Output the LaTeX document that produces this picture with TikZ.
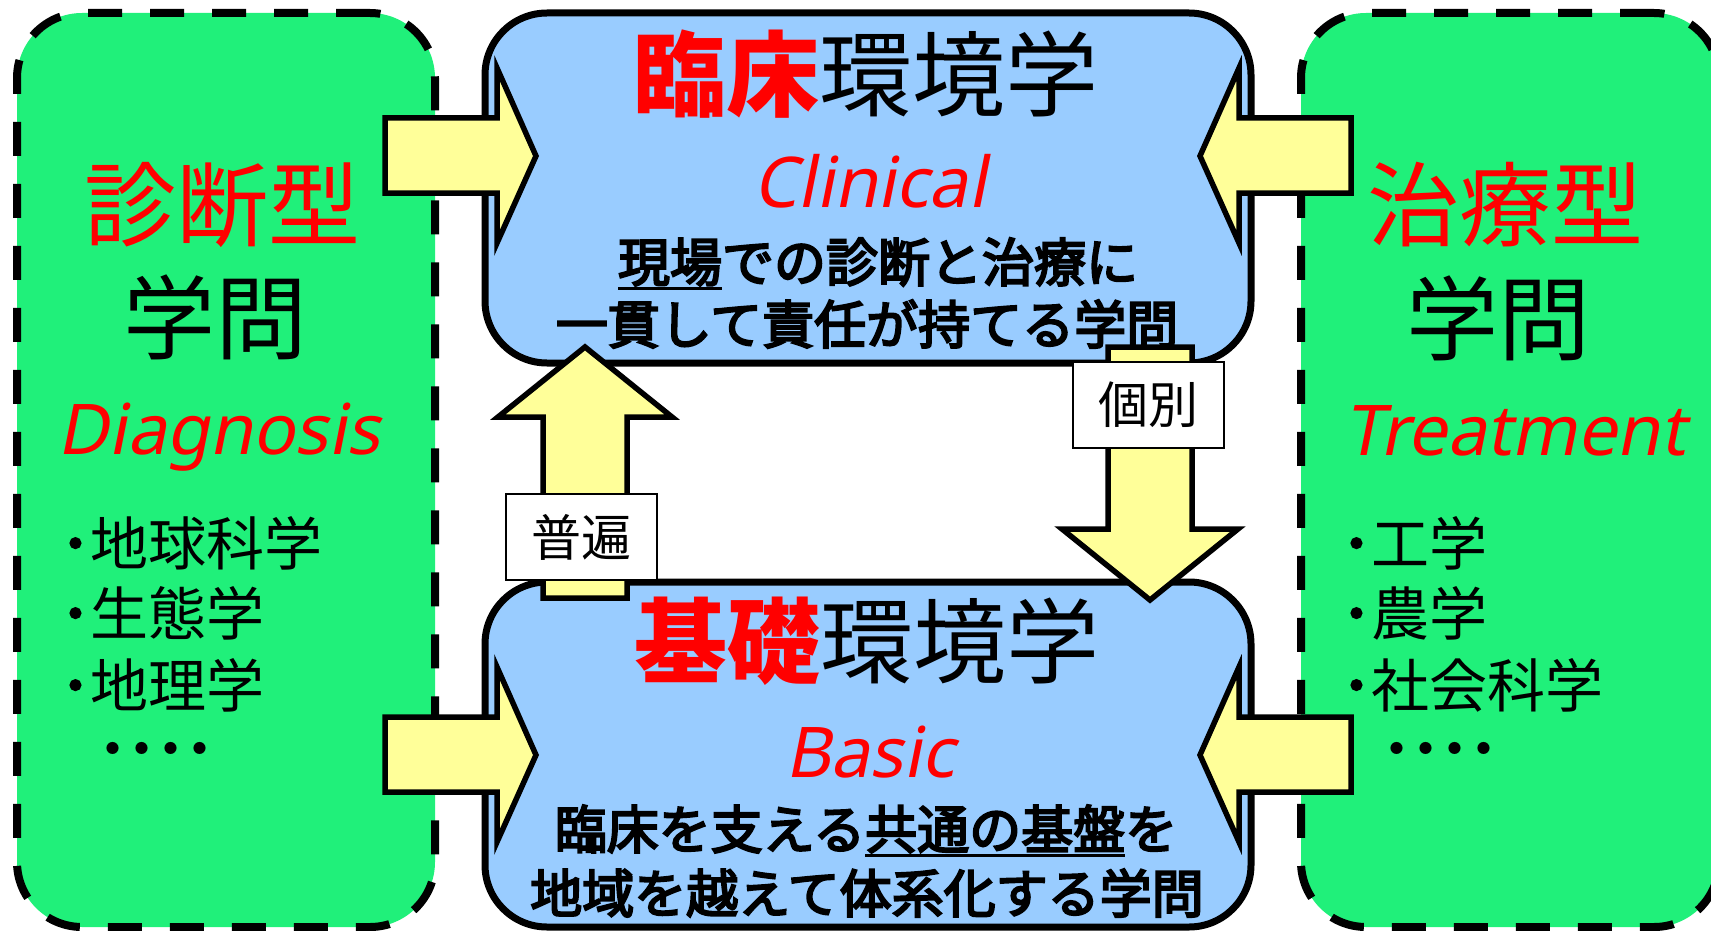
\documentclass[tikz,border=0pt]{standalone}
\usepackage{fontspec}
\setmainfont{Noto Sans CJK JP}
\newfontfamily\jpm{Noto Sans CJK JP}[FakeBold=4]
\newfontfamily\latit{Noto Sans}[FakeSlant=0.2]
\definecolor{gfill}{RGB}{32,240,122}
\definecolor{bfill}{RGB}{153,204,255}
\definecolor{yfill}{RGB}{255,255,153}
\definecolor{myred}{RGB}{255,0,0}
\newcommand\myul[1]{\setbox0=\hbox{#1}\rlap{\smash{\rule[-8pt]{\wd0}{3pt}}}\box0}
\newcommand\fsz[1]{\fontsize{#1}{#1}\selectfont}
\begin{document}
\begin{tikzpicture}[x=1pt,y=-1pt,
  greenbox/.style={draw=black, fill=gfill, line width=8pt, dash pattern=on 34pt off 28pt,
    rounded corners=65pt, minimum width=418pt, minimum height=914pt, inner sep=0pt},
  bluebox/.style={draw=black, fill=bfill, line width=7pt, rounded corners=62pt,
    minimum width=766pt, inner sep=0pt},
  blockarrow/.style={draw=black, fill=yfill, line width=5.5pt, line join=miter},
  labelbox/.style={draw=black, fill=white, line width=1.5pt, minimum width=151pt,
    minimum height=86pt, inner sep=0pt, font=\fsz{50}},
  txt/.style={inner sep=0pt, outer sep=0pt}
]
\useasboundingbox (0,0) rectangle (1711,931);
\clip (0,0) rectangle (1711,931);
\fill[white] (0,0) rectangle (1711,931);

% side boxes
\node[greenbox] (gl) at (226,470) {};
\node[greenbox] (gr) at (1510,470) {};

% central boxes
\node[bluebox, minimum height=350pt] (clin) at (868,188) {};
\node[bluebox, minimum height=345pt] (basic) at (868,754.5) {};

% horizontal block arrows
\draw[blockarrow] (385,118) -- (497,118) -- (497,68) -- (536,156) -- (497,243) -- (497,193) -- (385,193) -- cycle;
\draw[blockarrow] (1351,118) -- (1239,118) -- (1239,68) -- (1200,156) -- (1239,243) -- (1239,193) -- (1351,193) -- cycle;
\draw[blockarrow] (385,717) -- (497,717) -- (497,667) -- (536,755) -- (497,842) -- (497,792) -- (385,792) -- cycle;
\draw[blockarrow] (1351,717) -- (1239,717) -- (1239,667) -- (1200,755) -- (1239,842) -- (1239,792) -- (1351,792) -- cycle;

% vertical block arrows
\draw[blockarrow] (543,598) -- (543,417) -- (498,417) -- (585,347) -- (672,417) -- (627,417) -- (627,598) -- cycle;
\draw[blockarrow] (1108,347) -- (1192,347) -- (1192,529) -- (1238,529) -- (1150,600) -- (1062,529) -- (1108,529) -- cycle;

% labels
\node[labelbox] (lu) at (581.5,537) {普遍};
\node[labelbox] (ld) at (1148.5,405) {個別};

% top box texts
\node[txt] (t1) at (866,74) {\fsz{93}\textcolor{myred}{\bfseries 臨床}環境学};
\node[txt, anchor=base] (t2) at (870,207) {\latit\fsz{70}\color{myred}Clinical};
\node[txt] (t3) at (878,262) {\fsz{52}\jpm\myul{現場}での診断と治療に};
\node[txt] (t4) at (867,324) {\fsz{52}\jpm 一貫して責任が持てる学問};

% bottom box texts
\node[txt] (b1) at (867,641) {\fsz{93}\textcolor{myred}{\bfseries 基礎}環境学};
\node[txt, anchor=base] (b2) at (870,777) {\latit\fsz{70}\color{myred}Basic};
\node[txt] (b3) at (866,829) {\fsz{52}\jpm 臨床を支える\myul{共通の基盤}を};
\node[txt] (b4) at (867,893) {\fsz{52}\jpm 地域を越えて体系化する学問};

% left box texts
\node[txt] (l1) at (222,205) {\fsz{92}\color{myred}診断型};
\node[txt] (l2) at (215,317) {\fsz{92}学問};
\node[txt, anchor=base] (l3) at (219,454) {\latit\fsz{70}\color{myred}Diagnosis};
\node[txt, anchor=west] (l4) at (61,543) {\fsz{58}{\jpm ･}地球科学};
\node[txt, anchor=west] (l5) at (61,613) {\fsz{58}{\jpm ･}生態学};
\node[txt, anchor=west] (l6) at (61,685) {\fsz{58}{\jpm ･}地理学};
\node[txt, anchor=west] (l7) at (98,756) {\fsz{58}\bfseries ････};

% right box texts
\node[txt] (r1) at (1505,205) {\fsz{92}\color{myred}治療型};
\node[txt] (r2) at (1498,318) {\fsz{92}学問};
\node[txt, anchor=base] (r3) at (1515,455) {\latit\fsz{70}\color{myred}Treatment};
\node[txt, anchor=west] (r4) at (1342,543) {\fsz{58}{\jpm ･}工学};
\node[txt, anchor=west] (r5) at (1342,613) {\fsz{58}{\jpm ･}農学};
\node[txt, anchor=west] (r6) at (1342,685) {\fsz{58}{\jpm ･}社会科学};
\node[txt, anchor=west] (r7) at (1382,756) {\fsz{58}\bfseries ････};
\end{tikzpicture}
\end{document}
